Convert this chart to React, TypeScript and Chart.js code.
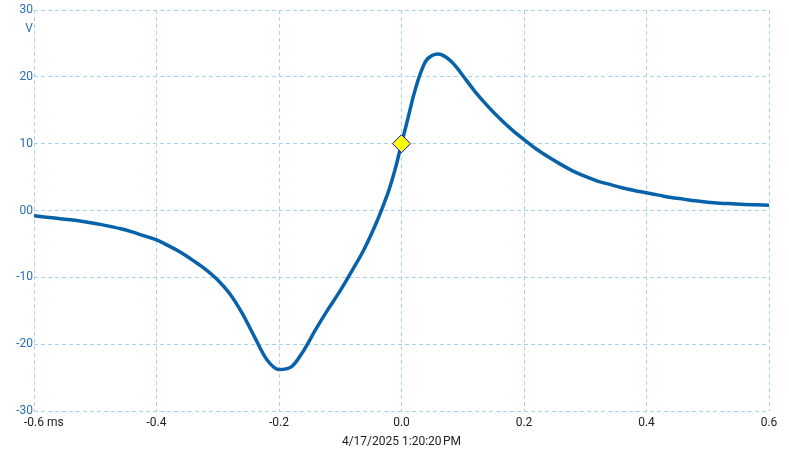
import React, { useEffect, useRef } from "react";
import { Chart, registerables } from "chart.js";

Chart.register(...registerables);

const TIMES = [
  -0.6, -0.58, -0.56, -0.54, -0.52, -0.5, -0.48, -0.46, -0.44, -0.42, -0.4,
  -0.38, -0.36, -0.34, -0.32, -0.3, -0.28, -0.26, -0.24, -0.22, -0.2, -0.18,
  -0.16, -0.14, -0.12, -0.1, -0.08, -0.06, -0.04, -0.03, -0.02, -0.01, 0.0,
  0.01, 0.02, 0.03, 0.04, 0.05, 0.06, 0.07, 0.08, 0.09, 0.1, 0.12, 0.14, 0.16,
  0.18, 0.2, 0.22, 0.24, 0.26, 0.28, 0.3, 0.32, 0.34, 0.36, 0.38, 0.4, 0.42,
  0.44, 0.46, 0.48, 0.5, 0.52, 0.54, 0.56, 0.58, 0.6,
];

const VOLTS = [
  -0.8, -1.0, -1.2, -1.4, -1.65, -1.95, -2.3, -2.7, -3.2, -3.8, -4.4,
  -5.3, -6.3, -7.5, -8.8, -10.4, -12.5, -15.4, -18.9, -22.3, -23.8, -23.4,
  -21.0, -17.8, -14.8, -12.0, -8.9, -5.6, -1.6, 0.7, 3.2, 6.3, 10.0,
  13.6, 17.3, 20.3, 22.4, 23.2, 23.4, 23.1, 22.4, 21.4, 20.2, 17.8, 15.7, 13.8,
  12.1, 10.6, 9.2, 8.0, 6.9, 5.9, 5.1, 4.4, 3.9, 3.4, 3.0, 2.65, 2.3,
  1.95, 1.7, 1.45, 1.25, 1.1, 1.0, 0.9, 0.85, 0.8,
];

const MARKER_T = [0.0];
const MARKER_V = [10.0];

const X_TICK_LABELS = ["-0.6", "-0.4", "-0.2", "0.0", "0.2", "0.4", "0.6"];
const X_UNIT = "ms";
const Y_TICK_LABELS = ["-30", "-20", "-10", "00", "10", "20", "30"];
const Y_UNIT = "V";
const TIMESTAMP = "4/17/2025 1:20:20\u202FPM";

const FONT = "Roboto, 'Noto Sans', sans-serif";
const GRID_COLOR = "#a3d6e6";
const Y_TICK_COLOR = "#2b6fb4";
const X_TICK_COLOR = "#222222";
const LINE_COLOR = "#0862aa";

export default function App() {
  const canvasRef = useRef<HTMLCanvasElement | null>(null);

  useEffect(() => {
    const canvas = canvasRef.current;
    if (!canvas) return;

    const unitPlugin = {
      id: "unitLabels",
      afterDraw(chart: any) {
        const ctx = chart.ctx;
        const xs = chart.scales.x;
        const ys = chart.scales.y;
        ctx.save();
        ctx.font = `12px ${FONT}`;
        const firstX = xs.getPixelForValue(-0.6);
        const w = ctx.measureText(X_TICK_LABELS[0]).width;
        ctx.fillStyle = X_TICK_COLOR;
        ctx.textAlign = "left";
        ctx.textBaseline = "middle";
        ctx.fillText(" " + X_UNIT, firstX + w / 2, 423);
        ctx.fillStyle = Y_TICK_COLOR;
        ctx.textAlign = "right";
        ctx.fillText(Y_UNIT, ys.right - 1, ys.getPixelForValue(30) + 19);
        ctx.restore();
      },
    };

    const chart = new Chart(canvas, {
      type: "line",
      data: {
        datasets: [
          {
            data: TIMES.map((t, i) => ({ x: t, y: VOLTS[i] })),
            borderColor: LINE_COLOR,
            borderWidth: 3.5,
            pointRadius: 0,
            cubicInterpolationMode: "monotone",
            fill: false,
            order: 2,
          },
          {
            data: MARKER_T.map((t, i) => ({ x: t, y: MARKER_V[i] })),
            showLine: false,
            pointStyle: "rectRot",
            pointRadius: 9,
            pointBackgroundColor: "#ffff00",
            pointBorderColor: "#0000ff",
            pointBorderWidth: 1,
            order: 1,
          },
        ],
      },
      options: {
        animation: false,
        responsive: false,
        maintainAspectRatio: false,
        layout: { padding: { left: 0, right: 20, top: 10, bottom: 0 } },
        plugins: {
          legend: { display: false },
          tooltip: { enabled: false },
        },
        scales: {
          x: {
            type: "linear",
            min: -0.6,
            max: 0.6,
            afterFit: (s: any) => {
              s.height = 41;
            },
            ticks: {
              stepSize: 0.2,
              color: X_TICK_COLOR,
              font: { family: FONT, size: 12 },
              padding: 5,
              maxRotation: 0,
              autoSkip: false,
              callback: (_v: any, i: number) => X_TICK_LABELS[i],
            },
            grid: {
              color: GRID_COLOR,
              lineWidth: 1,
              drawTicks: false,
              tickLength: 0,
            },
            border: { display: false, dash: [4, 3] },
            title: {
              display: true,
              text: TIMESTAMP,
              color: X_TICK_COLOR,
              font: { family: FONT, size: 12 },
              padding: { top: 0, bottom: 3 },
            },
          },
          y: {
            type: "linear",
            min: -30,
            max: 30,
            afterFit: (s: any) => {
              s.width = 34;
            },
            ticks: {
              stepSize: 10,
              color: Y_TICK_COLOR,
              font: { family: FONT, size: 12 },
              padding: 1,
              callback: (_v: any, i: number) => Y_TICK_LABELS[i],
            },
            grid: {
              color: GRID_COLOR,
              lineWidth: 1,
              drawTicks: false,
              tickLength: 0,
            },
            border: { display: false, dash: [4, 3] },
          },
        },
      },
      plugins: [unitPlugin],
    });

    return () => chart.destroy();
  }, []);

  return (
    <div style={{ position: "fixed", left: 0, top: 0, width: 789, height: 452, background: "#ffffff" }}>
      <canvas ref={canvasRef} width={789} height={452} style={{ width: 789, height: 452 }} />
    </div>
  );
}
